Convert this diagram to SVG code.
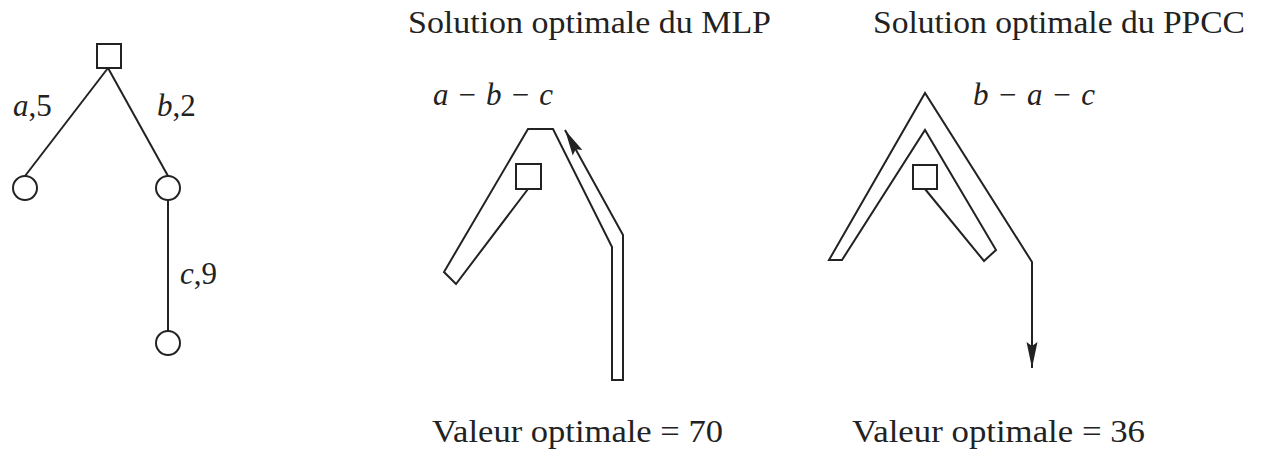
<svg xmlns="http://www.w3.org/2000/svg" width="1279" height="449" viewBox="0 0 1279 449">
<style>
.s{fill:none;stroke:#222;stroke-width:2;stroke-linejoin:miter}
.t{font-family:"Liberation Serif","DejaVu Serif",serif;font-size:31px;fill:#222}
.i{font-style:italic}
</style>
<defs>
<marker id="ah" markerUnits="userSpaceOnUse" markerWidth="28" markerHeight="14" refX="26" refY="7" orient="auto">
<path d="M0,1.5 L26,7 L0,12.5 L4,7 Z" fill="#222"/>
</marker>
</defs>
<rect width="1279" height="449" fill="#fff"/>

<g id="connectors">
<line class="s" x1="108" y1="68" x2="25" y2="176"/>
<line class="s" x1="108" y1="68" x2="168" y2="176"/>
<line class="s" x1="168" y1="200" x2="168" y2="331"/>
</g>
<g id="root"><rect class="s" x="97" y="44" width="24" height="24"/></g>
<g id="nodeA"><circle class="s" cx="25" cy="188" r="12"/></g>
<g id="nodeB"><circle class="s" cx="168" cy="188" r="12"/></g>
<g id="nodeC"><circle class="s" cx="168" cy="343" r="12"/></g>
<g id="edge-labels">
<text class="t" x="13" y="116"><tspan class="i">a</tspan>,5</text>
<text class="t" x="157" y="116"><tspan class="i">b</tspan>,2</text>
<text class="t" x="180" y="284"><tspan class="i">c</tspan>,9</text>
</g>

<g id="mlp">
<text class="t" x="408" y="33" textLength="363" lengthAdjust="spacingAndGlyphs">Solution optimale du MLP</text>
<text class="t" x="433" y="105" textLength="120" lengthAdjust="spacing"><tspan class="i">a</tspan> − <tspan class="i">b</tspan> − <tspan class="i">c</tspan></text>
<rect class="s" x="516" y="164" width="25" height="25"/>
<polyline class="s" points="528,189 456,284 444,272 528,129 553,129 612,247 612,380 623,380 623,235 565,130" marker-end="url(#ah)"/>
<text class="t" x="432" y="442" textLength="291" lengthAdjust="spacingAndGlyphs">Valeur optimale = 70</text>
</g>

<g id="ppcc">
<text class="t" x="873" y="33" textLength="372" lengthAdjust="spacingAndGlyphs">Solution optimale du PPCC</text>
<text class="t" x="973" y="105" textLength="122" lengthAdjust="spacing"><tspan class="i">b</tspan> − <tspan class="i">a</tspan> − <tspan class="i">c</tspan></text>
<rect class="s" x="913" y="165" width="24" height="24"/>
<polyline class="s" points="925,189 984,261 996,250 925,130 842,260 829,260 925,93 1032,262 1032,368" marker-end="url(#ah)"/>
<text class="t" x="852" y="442" textLength="293" lengthAdjust="spacingAndGlyphs">Valeur optimale = 36</text>
</g>
</svg>
